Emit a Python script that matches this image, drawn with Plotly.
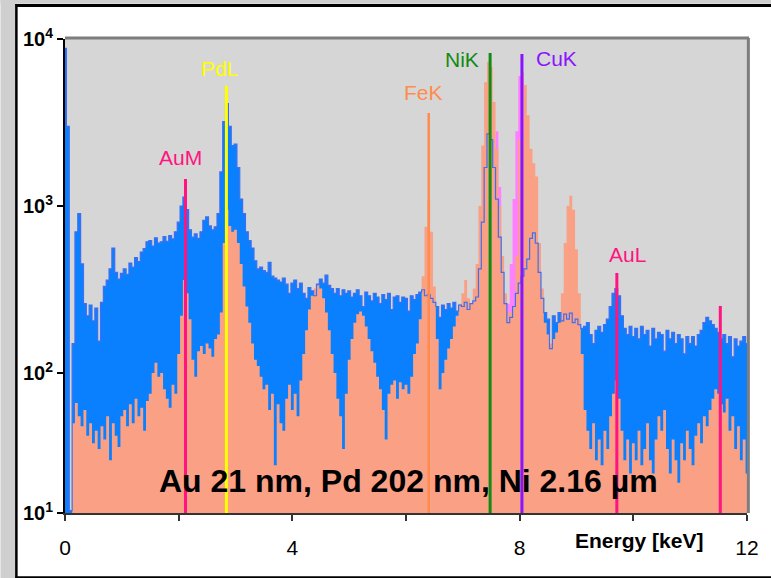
import numpy as np
import plotly.graph_objects as go

# Energy axis of the spectra (keV), 0.05 keV per channel
energy = np.round(np.arange(0, 12.0001, 0.05), 2)

# Measured spectrum (counts), one row per keV
measured = (
    [8800, 3000, 15, 150, 700, 900, 450, 260, 220, 255, 205, 245, 155, 265, 330, 360, 420, 560, 400, 365]
    + [395, 420, 390, 455, 430, 490, 465, 530, 555, 610, 620, 575, 645, 600, 610, 655, 615, 665, 635, 700]
    + [800, 1000, 1130, 950, 720, 650, 680, 640, 700, 820, 860, 760, 720, 750, 900, 1600, 3200, 4100, 3000, 2300]
    + [2350, 1700, 1100, 900, 700, 620, 560, 470, 420, 430, 410, 400, 460, 380, 370, 360, 350, 370, 340, 300]
    + [345, 360, 320, 345, 300, 280, 325, 310, 290, 340, 365, 345, 385, 335, 320, 300, 320, 290, 315, 300]
    + [310, 285, 300, 315, 290, 250, 305, 290, 270, 300, 285, 260, 295, 275, 300, 240, 285, 290, 265, 285]
    + [280, 235, 290, 275, 295, 305, 315, 290, 295, 280, 265, 250, 215, 255, 240, 260, 245, 265, 235, 255]
    + [250, 265, 240, 260, 270, 285, 420, 800, 1700, 2700, 2500, 1700, 1100, 650, 400, 260, 200, 215, 250, 300]
    + [345, 380, 420, 480, 640, 690, 600, 400, 280, 230, 210, 140, 220, 200, 230, 205, 225, 210, 228, 200]
    + [210, 195, 185, 190, 200, 170, 150, 180, 190, 175, 195, 210, 250, 300, 320, 290, 220, 185, 170, 190]
    + [165, 185, 160, 190, 170, 180, 145, 185, 160, 175, 170, 135, 180, 160, 175, 150, 170, 160, 130, 165]
    + [150, 165, 145, 170, 180, 200, 215, 205, 195, 185, 175, 160, 170, 150, 165, 125, 160, 145, 155, 165]
    + [150]
)

# Simulated spectrum for the layer stack (counts)
simulated = (
    [10, 10, 10, 50, 66, 55, 48, 60, 42, 50, 38, 45, 35, 48, 40, 55, 30, 50, 42, 36]
    + [55, 60, 48, 65, 50, 70, 55, 62, 45, 68, 75, 100, 115, 95, 100, 80, 70, 62, 85, 75]
    + [130, 220, 360, 300, 210, 120, 95, 135, 145, 130, 150, 140, 125, 160, 170, 230, 600, 950, 760, 700]
    + [720, 600, 450, 330, 250, 200, 150, 120, 110, 95, 80, 85, 60, 75, 28, 65, 50, 45, 70, 85]
    + [60, 75, 55, 90, 130, 180, 240, 290, 320, 335, 320, 280, 230, 180, 130, 100, 70, 55, 35, 75]
    + [120, 160, 200, 225, 233, 220, 190, 160, 135, 115, 95, 80, 60, 40, 75, 85, 90, 70, 88, 80]
    + [85, 75, 95, 130, 150, 210, 380, 750, 1090, 700, 330, 160, 80, 100, 120, 140, 160, 190, 220, 260]
    + [300, 360, 280, 260, 320, 450, 1000, 2300, 5500, 7300, 6800, 4200, 2200, 1000, 500, 300, 230, 230, 250, 500]
    + [2500, 6300, 5300, 3500, 2200, 1800, 1500, 600, 320, 200, 170, 150, 160, 175, 200, 300, 600, 1000, 1150, 950]
    + [550, 300, 130, 60, 45, 35, 50, 30, 40, 28, 45, 35, 55, 75, 90, 70, 45, 30, 40, 25]
    + [38, 30, 45, 28, 35, 50, 30, 25, 40, 55, 45, 60, 35, 25, 40, 30, 22, 38, 30, 45]
    + [35, 28, 42, 50, 38, 55, 48, 60, 70, 80, 75, 65, 58, 70, 45, 55, 35, 48, 30, 40]
    + [25]
)

# Cu component between the Ni K and Cu K peaks
cu_energy = [7.55, 7.60, 7.65, 7.70, 7.75, 7.80, 7.85, 7.90, 7.95, 8.00, 8.05, 8.10]
cu_counts = [10, 2800, 1300, 500, 290, 260, 450, 1100, 2800, 6000, 6000, 10]

# Element line markers: label, energy (keV), marker height (counts), colour
line_labels = ["AuM", "PdL", "FeK", "NiK", "CuK", "AuL", ""]
line_energy = [2.12, 2.84, 6.40, 7.48, 8.04, 9.71, 11.53]
line_height = [1450, 5240, 3600, 8240, 8130, 397, 252]
line_colors = ["#ff1480", "#ffff00", "#ff8c4c", "#138a13", "#8a14ff", "#ff1480", "#ff1480"]
line_widths = [3, 3, 2.5, 3, 3, 3, 3]

# Label placement (keV offset from marker, height in plot fraction)
label_dx = [-0.08, -0.13, -0.10, -0.50, 0.61, 0.18]
label_y = [0.749, 0.937, 0.888, 0.956, 0.958, 0.545]

# y-axis decade labels; the lowest label sits on the axis floor
AXIS_FLOOR = 14.5
y_tickvals = [AXIS_FLOOR, 100, 1000, 10000]
y_ticktext = ["<b>10<sup>1</sup></b>", "<b>10<sup>2</sup></b>",
              "<b>10<sup>3</sup></b>", "<b>10<sup>4</sup></b>"]
x_tickvals = [0, 4, 8, 12]
x_ticktext = ["0", "4", "8", "12"]

FONT = "Arial, 'Liberation Sans', sans-serif"

fig = go.Figure()

# measured spectrum body
fig.add_trace(go.Scatter(
    x=energy, y=measured, mode="lines", line=dict(width=0, shape="hvh"),
    fill="tozeroy", fillcolor="#0a80ff", hoverinfo="skip"))
# Cu contribution
fig.add_trace(go.Scatter(
    x=cu_energy, y=cu_counts, mode="lines", line=dict(width=0, shape="hvh"),
    fill="tozeroy", fillcolor="#ff80ff", hoverinfo="skip"))
# simulated spectrum
fig.add_trace(go.Scatter(
    x=energy, y=simulated, mode="lines", line=dict(width=0, shape="hvh"),
    fill="tozeroy", fillcolor="#f9a085", hoverinfo="skip"))
# measured spectrum outline on top
fig.add_trace(go.Scatter(
    x=energy, y=measured, mode="lines", line=dict(width=1.2, color="#3f6ff0", shape="hvh"),
    hoverinfo="skip"))

# element markers
for e, h, c, w in zip(line_energy, line_height, line_colors, line_widths):
    fig.add_trace(go.Scatter(
        x=[e, e], y=[AXIS_FLOOR, h], mode="lines",
        line=dict(color=c, width=w), hoverinfo="skip"))

annotations = []
for lab, e, dx, yl, c in zip(line_labels, line_energy, label_dx, label_y, line_colors):
    if not lab:
        continue
    annotations.append(dict(
        x=e + dx, y=yl, xref="x", yref="paper", text=lab, showarrow=False,
        font=dict(family=FONT, size=21, color=c), xanchor="center", yanchor="middle"))

annotations.append(dict(
    x=6.04, y=0.0675, xref="x", yref="paper",
    text="<b>Au 21 nm, Pd 202 nm, Ni 2.16 µm</b>", showarrow=False,
    font=dict(family=FONT, size=32, color="#000000"), xanchor="center", yanchor="middle"))
annotations.append(dict(
    x=10.1, y=-0.057, xref="x", yref="paper", text="<b>Energy [keV]</b>", showarrow=False,
    font=dict(family=FONT, size=21, color="#000000"), xanchor="center", yanchor="middle"))

shapes = [
    # outer grey margin
    dict(type="rect", xref="paper", yref="paper", x0=-0.0946, x1=-0.0725, y0=-0.14, y1=1.09,
         fillcolor="#cfcfcf", line=dict(width=0), layer="below"),
    dict(type="rect", xref="paper", yref="paper", x0=-0.0946, x1=1.04, y0=1.0745, y1=1.09,
         fillcolor="#cfcfcf", line=dict(width=0), layer="below"),
    # black frame
    dict(type="line", xref="paper", yref="paper", x0=-0.0713, x1=-0.0713, y0=-0.14, y1=1.074,
         line=dict(color="#000000", width=2.5)),
    dict(type="line", xref="paper", yref="paper", x0=-0.0725, x1=1.04, y0=1.0705, y1=1.0705,
         line=dict(color="#000000", width=3)),
    dict(type="line", xref="paper", yref="paper", x0=-0.0725, x1=1.04, y0=-0.1355, y1=-0.1355,
         line=dict(color="#000000", width=2)),
    # grey top/right border of the plot area
    dict(type="line", xref="paper", yref="paper", x0=0, x1=1.003, y0=1.002, y1=1.002,
         line=dict(color="#7d7d7d", width=3), layer="above"),
    dict(type="line", xref="paper", yref="paper", x0=1.002, x1=1.002, y0=0, y1=1.002,
         line=dict(color="#7d7d7d", width=3), layer="above"),
]

fig.update_layout(
    width=771, height=578,
    margin=dict(l=65, r=18, t=39, b=65),
    paper_bgcolor="#ffffff", plot_bgcolor="#d6d6d6",
    showlegend=False,
    font=dict(family=FONT, color="#000000"),
    annotations=annotations,
    shapes=shapes,
    xaxis=dict(
        range=[0, 12], tickvals=x_tickvals, ticktext=x_ticktext,
        ticks="outside", ticklen=6, tickwidth=2, tickcolor="#333333",
        minor=dict(dtick=2, tick0=0, ticks="outside", ticklen=6, tickwidth=2,
                   tickcolor="#333333", showgrid=False),
        showline=True, linecolor="#333333", linewidth=2,
        showgrid=False, zeroline=False, ticklabelstandoff=9,
        tickfont=dict(family=FONT, size=21, color="#000000")),
    yaxis=dict(
        type="log", range=[np.log10(AXIS_FLOOR), 4],
        tickvals=y_tickvals, ticktext=y_ticktext,
        ticks="outside", ticklen=6, tickwidth=2, tickcolor="#000000",
        showline=True, linecolor="#000000", linewidth=2,
        showgrid=False, zeroline=False,
        tickfont=dict(family=FONT, size=20, color="#000000")),
)

fig.write_html("out.html")
